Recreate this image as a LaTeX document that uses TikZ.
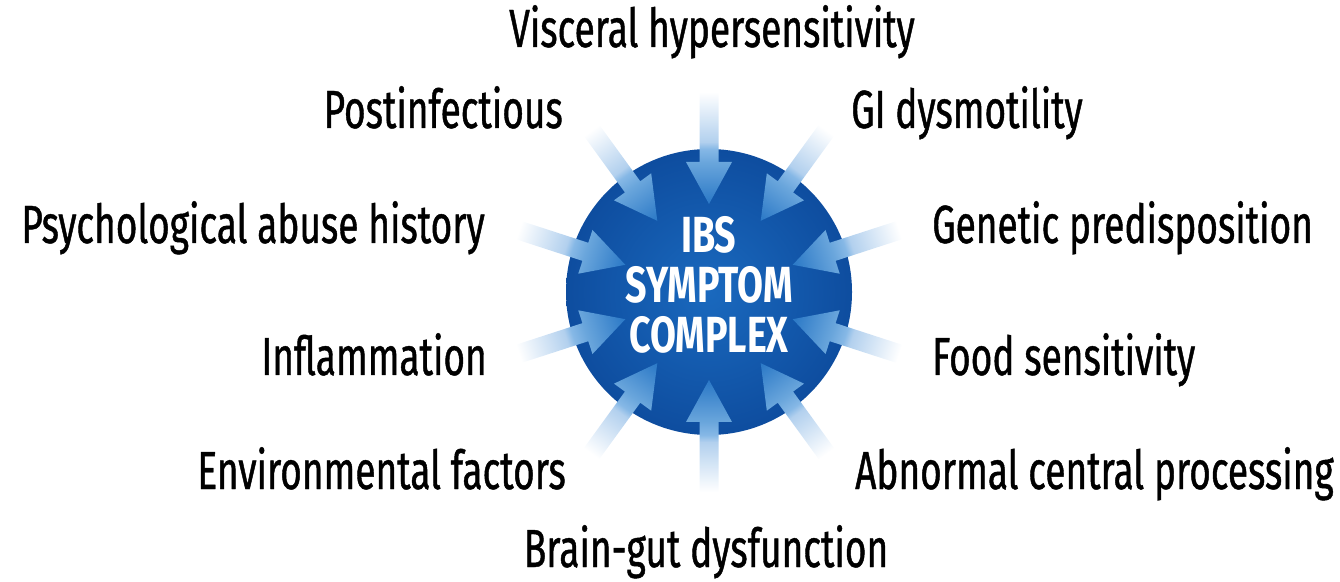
\documentclass[tikz,border=0pt]{standalone}
\usepackage{fontspec}
\newfontfamily\lblfont[FakeStretch=0.69,FakeBold=0.8]{Fira Sans}
\newfontfamily\hubfont[FakeStretch=0.74]{Fira Sans Bold}
\usetikzlibrary{shapes.geometric}

% palette
\definecolor{hubin}{HTML}{1A69BE}
\definecolor{hubout}{HTML}{0E4D9F}
\definecolor{tipc}{HTML}{2A78C6}
\definecolor{headc}{HTML}{6AA6DC}
\definecolor{edgec}{HTML}{86B8E6}
\definecolor{outc}{HTML}{B2D0EE}

% colour run along one arrow: dark at the tip, white at the tail
\pgfdeclarehorizontalshading{arrowfade}{100bp}{%
  color(0bp)=(tipc); color(25bp)=(tipc); color(43.75bp)=(headc);
  color(49.6bp)=(edgec); color(52.7bp)=(outc); color(75bp)=(white);
  color(100bp)=(white)}

\tikzset{
  lbl/.style={inner sep=0pt, text=black, font=\lblfont\fontsize{53.7}{60}\selectfont},
  hubdisc/.style={circle, minimum size=286pt, inner sep=0pt, shading=radial,
    inner color=hubin, outer color=hubout},
  hubtext/.style={align=center, inner sep=0pt, text=white,
    font=\hubfont\fontsize{50.8}{50}\selectfont},
  inarrow/.style={shading=arrowfade}
}

\begin{document}
\begin{tikzpicture}[x=1pt,y=1pt]
\useasboundingbox (0,0) rectangle (1340,581);

% central disc
\node[hubdisc] (hub) at (709,289) {};

% ten arrows converging on the disc
\foreach \a in {90,54,18,-18,-54,-90,-126,-162,162,126}{
  \begin{scope}[transform canvas={shift={(709,289)}, rotate=\a}]
    \shade[inarrow] (200,9.5) -- (130,9.5) -- (130,23) -- (88,0)
      -- (130,-23) -- (130,-9.5) -- (200,-9.5) -- cycle;
  \end{scope}
}

\node[hubtext] (hubtxt) at (709,296.5) {IBS\\SYMPTOM\\COMPLEX};

% contributing factors
\node[lbl, anchor=base]      (visc)  at (712,534) {Visceral hypersensitivity};
\node[lbl, anchor=base east] (post)  at (563,453) {Postinfectious};
\node[lbl, anchor=base west] (gi)    at (851,453) {GI dysmotility};
\node[lbl, anchor=base east] (psy)   at (485,338) {Psychological abuse history};
\node[lbl, anchor=base west] (gen)   at (932,338) {Genetic predisposition};
\node[lbl, anchor=base east] (infl)  at (487,206) {Inflammation};
\node[lbl, anchor=base west] (food)  at (932,206) {Food sensitivity};
\node[lbl, anchor=base east] (env)   at (566,92)  {Environmental factors};
\node[lbl, anchor=base west] (abn)   at (855,92)  {Abnormal central processing};
\node[lbl, anchor=base]      (brain) at (706,14)  {Brain-gut dysfunction};
\end{tikzpicture}
\end{document}
